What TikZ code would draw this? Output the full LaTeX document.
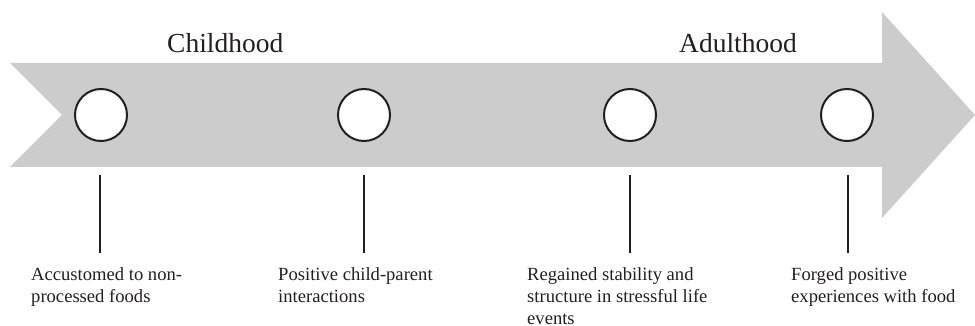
\documentclass[tikz,border=0pt]{standalone}
\usepackage{fontspec}
\setmainfont{Liberation Serif}
\definecolor{bandgray}{HTML}{CCCCCC}
\definecolor{ink}{HTML}{231F20}
\begin{document}
\begin{tikzpicture}[x=1pt,y=-1pt,
  milestone/.style={circle,draw=ink,fill=white,line width=2pt,minimum size=52pt,inner sep=0pt},
  stage/.style={font=\fontsize{27.5}{33}\selectfont,text=ink,anchor=base west,inner sep=0pt},
  note/.style={font=\fontsize{18.6}{22}\selectfont,text=ink,anchor=base west,align=left,inner sep=0pt},
  tick/.style={draw=ink,line width=1.2pt}]
\useasboundingbox (0,0) rectangle (975,326);
\fill[bandgray] (10,63) -- (882,63) -- (882,12) -- (975,115) -- (882,218) -- (882,167) -- (10,167) -- (62,115) -- cycle;
\node[stage] (child) at (167,53) {Childhood};
\node[stage] (adult) at (679,53) {Adulthood};
\node[milestone] (c1) at (101,115) {};
\node[milestone] (c2) at (364,115) {};
\node[milestone] (c3) at (630,115) {};
\node[milestone] (c4) at (847,115) {};
\coordinate (a1) at (100,175); \coordinate (b1) at (100,253);
\coordinate (a2) at (364,175); \coordinate (b2) at (364,253);
\coordinate (a3) at (630,175); \coordinate (b3) at (630,253);
\coordinate (a4) at (848,175); \coordinate (b4) at (848,253);
\draw[tick] (a1) -- (b1);
\draw[tick] (a2) -- (b2);
\draw[tick] (a3) -- (b3);
\draw[tick] (a4) -- (b4);
\node[note] (l1) at (31,302) {Accustomed to non-\\processed foods};
\node[note] (l2) at (278,302) {Positive child-parent\\interactions};
\node[note] (l3) at (527,324) {Regained stability and\\structure in stressful life\\events};
\node[note] (l4) at (791,302) {Forged positive\\experiences with food};
\end{tikzpicture}
\end{document}
